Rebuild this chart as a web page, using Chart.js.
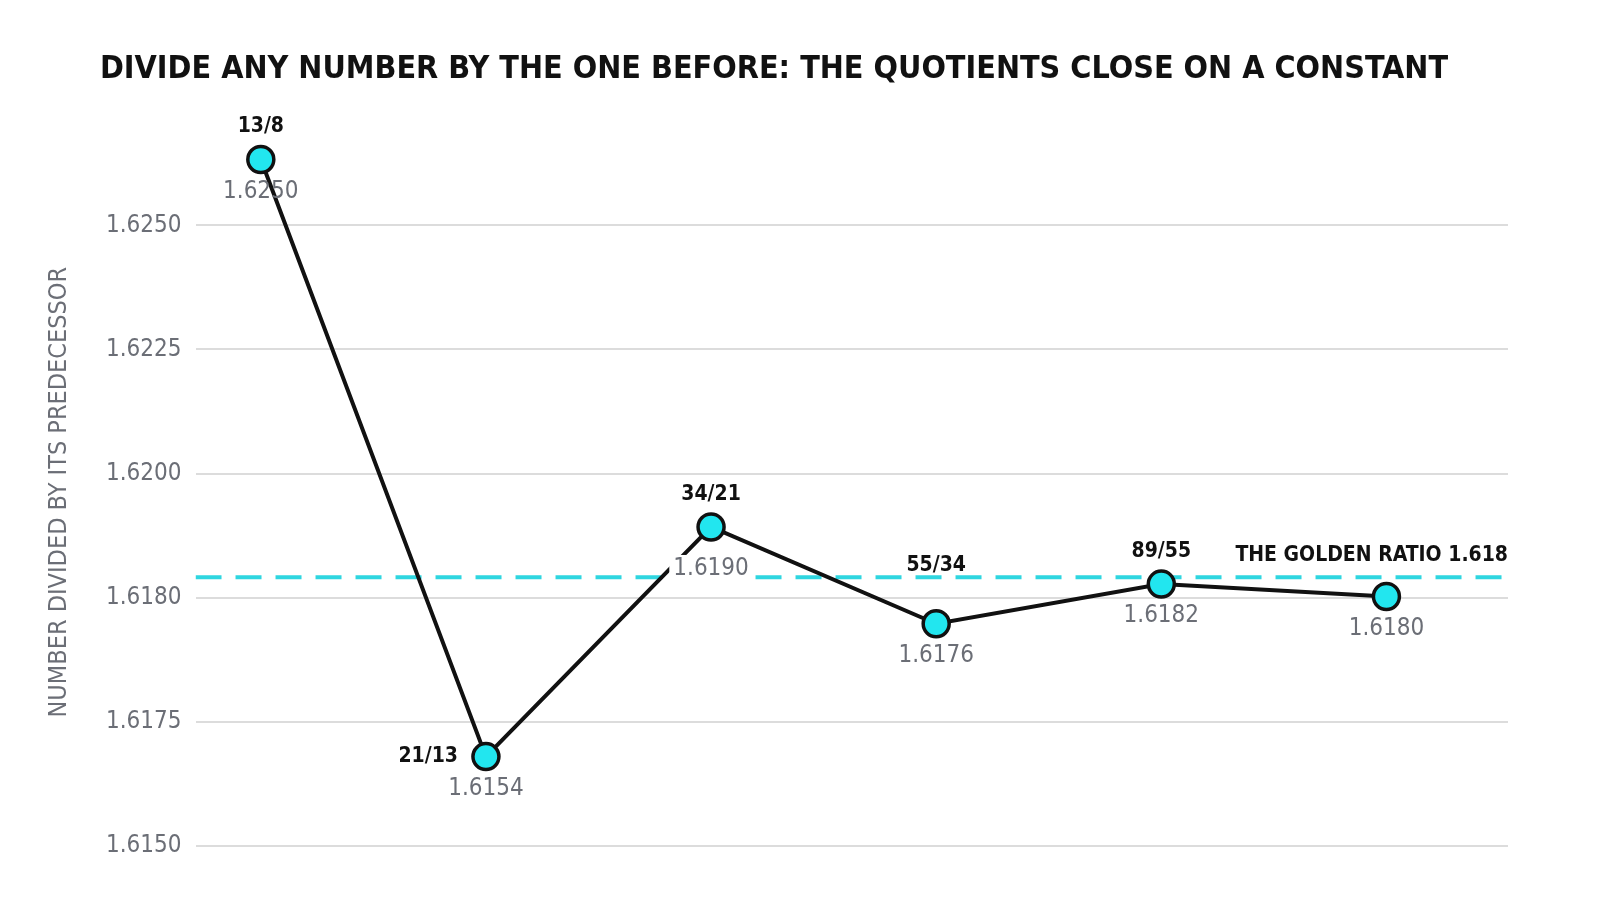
<!DOCTYPE html>
<html><head><meta charset="utf-8">
<script src="https://cdn.jsdelivr.net/npm/chart.js@4/dist/chart.umd.min.js"></script>
<style>html,body{margin:0;background:#fff}#w{width:1600px;height:914px;position:relative}</style>
</head><body><div id="w"><canvas id="c" width="1600" height="914"></canvas></div>
<script>
const FONT = '"Liberation Sans Narrow","DejaVu Sans Condensed","Roboto",sans-serif';
const categories = ['13/8','21/13','34/21','55/34','89/55','144/89'];
const quotientLabels = ['1.6250','1.6154','1.6190','1.6176','1.6182','1.6180'];
// vertical positions as drawn, in grid-step units (0 = bottom gridline)
const plotted = [5.53, 0.72, 2.57, 1.79, 2.11, 2.01];
const tickLabels = ['1.6150','1.6175','1.6180','1.6200','1.6225','1.6250'];
const goldenLevel = 2.165;
const goldenLabel = 'THE GOLDEN RATIO 1.618';
const titleText = 'DIVIDE ANY NUMBER BY THE ONE BEFORE: THE QUOTIENTS CLOSE ON A CONSTANT';
const showName = [true,true,true,true,true,false];

function fitSize(text, weight, maxW, maxSize){
  const c=document.createElement('canvas').getContext('2d');
  let s=maxSize;
  while(s>10){c.font=weight+' '+s+'px '+FONT; if(c.measureText(text).width<=maxW) break; s--;}
  return s;
}
const titleSize = fitSize(titleText,'bold',1380,46);
const nameSize = fitSize('THE GOLDEN RATIO 1.618','bold',285,32);
const valSize = fitSize('1.6250','normal',78,30);
const axisTitleSize = fitSize('NUMBER DIVIDED BY ITS PREDECESSOR','normal',465,29);

const labelPlugin = {
  id:'lbl',
  afterDatasetsDraw(chart){
    const {ctx, scales:{x,y}} = chart;
    ctx.save();
    ctx.font = 'bold '+nameSize+'px '+FONT; ctx.fillStyle='#111'; ctx.textAlign='right'; ctx.textBaseline='alphabetic';
    ctx.fillText(goldenLabel, x.right, y.getPixelForValue(goldenLevel)-16);
    plotted.forEach((v,i)=>{
      const px=x.getPixelForValue(i), py=y.getPixelForValue(v);
      if(showName[i]){
        ctx.font='bold '+nameSize+'px '+FONT; ctx.fillStyle='#111';
        if(i===1){ctx.textAlign='right'; ctx.textBaseline='middle'; ctx.fillText(categories[i],px-28,py);}
        else {ctx.textAlign='center'; ctx.textBaseline='bottom'; ctx.fillText(categories[i],px,py-(i===3?48:22));}
      }
      ctx.font=valSize+'px '+FONT; ctx.textAlign='center'; ctx.textBaseline='top';
      const ty = py+(i===2?30:20);
      if(i===2){const w=ctx.measureText(quotientLabels[i]).width; ctx.fillStyle='#fff'; ctx.fillRect(px-w/2-4,ty-2,w+8,valSize+4);}
      ctx.fillStyle='#6b6e76';
      ctx.fillText(quotientLabels[i],px,ty);
    });
    ctx.restore();
  }
};

new Chart(document.getElementById('c'),{
  type:'line',
  data:{datasets:[
    {data:[{x:-0.29,y:goldenLevel},{x:5.54,y:goldenLevel}],borderColor:'#2fd6e0',borderWidth:4,borderDash:[26,14],pointRadius:0,order:2},
    {data:plotted.map((v,i)=>({x:i,y:v})),borderColor:'#111',borderWidth:4,pointRadius:13,pointBackgroundColor:'#22e6ef',pointBorderColor:'#111',pointBorderWidth:3.5,order:1}
  ]},
  options:{responsive:false,animation:false,devicePixelRatio:1,
    layout:{padding:{left:40,right:92,top:10,bottom:68}},
    plugins:{legend:{display:false},tooltip:{enabled:false},
      title:{display:true,text:titleText,color:'#111',
        font:{family:FONT,size:titleSize,weight:'bold'},padding:{top:40,bottom:50}}},
    scales:{
      x:{type:'linear',min:-0.29,max:5.54,display:false},
      y:{min:0,max:5.7,afterBuildTicks(s){s.ticks=[0,1,2,3,4,5].map(v=>({value:v}));},
        border:{display:false},grid:{color:'#dcdcdc',lineWidth:2,drawTicks:false},
        ticks:{callback:(v)=>tickLabels[v],color:'#6b6e76',font:{family:FONT,size:valSize},padding:14},
        title:{display:true,text:'NUMBER DIVIDED BY ITS PREDECESSOR',color:'#6b6e76',font:{family:FONT,size:axisTitleSize},padding:{bottom:18}}}
    }},
  plugins:[labelPlugin]
});
</script>
</body></html>
